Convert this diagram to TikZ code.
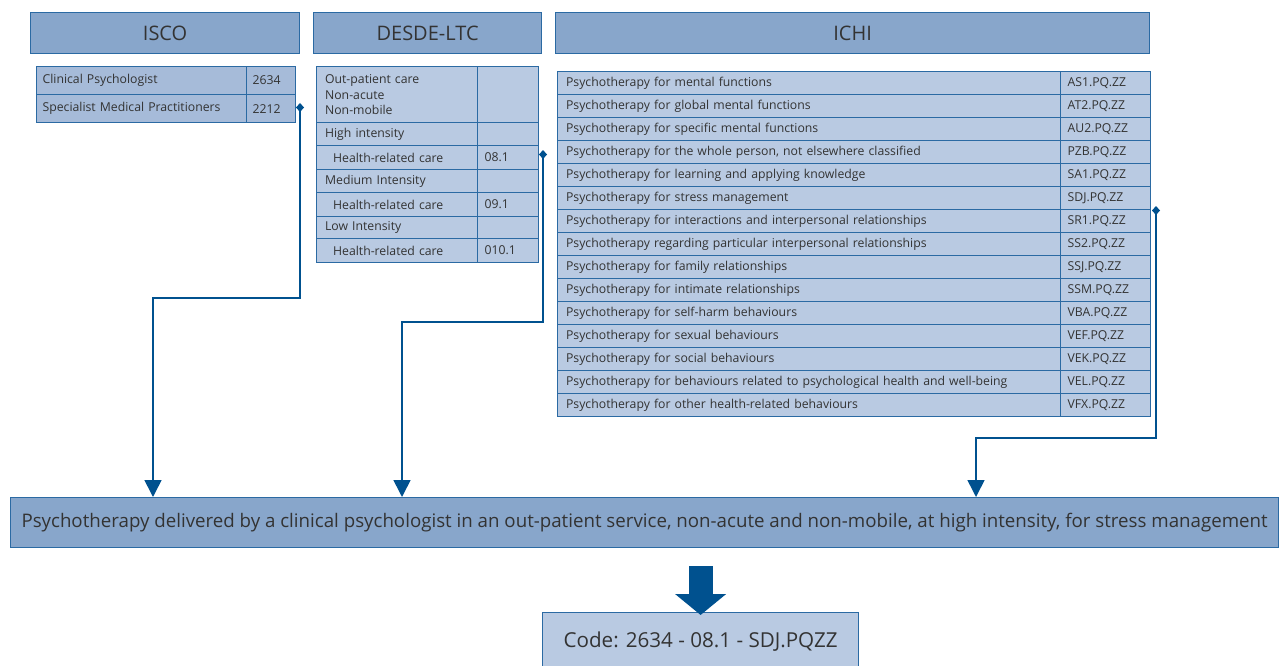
\documentclass[tikz,border=0pt]{standalone}
\usepackage{fontspec}
\setmainfont{Open Sans}
\usetikzlibrary{arrows.meta}
\definecolor{hdrfill}{HTML}{88A6CB}
\definecolor{cellfill}{HTML}{B9CAE2}
\definecolor{iscofill}{HTML}{A6BBD9}
\definecolor{linecol}{HTML}{2B6AA3}
\definecolor{arrowcol}{HTML}{00518F}
\definecolor{textcol}{HTML}{333333}
\begin{document}
\begin{tikzpicture}[
        x=1pt,
        y=-1pt,
        text=textcol
    ]
    \tikzset{
        hdr/.style = {rectangle, draw=linecol, line width=1.2pt, fill=hdrfill, anchor=north west,
                      inner sep=0pt, minimum height=41pt, font=\fontsize{20}{24}\selectfont},
        cell/.style = {rectangle, draw=linecol, line width=1.2pt, fill=cellfill, anchor=north west,
                       inner xsep=8.5pt, inner ysep=0pt, align=left, font=\fontsize{12.25}{15.5}\selectfont},
        iscotext/.style = {cell, fill=iscofill, inner xsep=6pt, text width=198pt, minimum height=28pt},
        iscocode/.style = {cell, fill=iscofill, inner xsep=6pt, text width=37pt, minimum height=28pt},
        desdetext/.style = {cell, text width=144pt},
        desdecode/.style = {cell, inner xsep=7pt, text width=47pt},
        ichitext/.style = {cell, text width=486pt, minimum height=23pt},
        ichicode/.style = {cell, inner xsep=7pt, text width=76pt, minimum height=23pt},
        link/.style = {draw=arrowcol, line width=1.6pt,
                       {Diamond[width=8pt,length=9pt,fill=arrowcol]}-{Triangle[width=17pt,length=17pt,fill=arrowcol]}},
        bigarrow/.style = {draw=arrowcol, line width=24pt, -{Triangle[width=50pt,length=21pt,fill=arrowcol]}},
    }
    \useasboundingbox (0,0) rectangle (1279,666);
    % headers
    \node[hdr, minimum width=269pt] at (30,12) (iscohdr) {ISCO};
    \node[hdr, minimum width=228pt] at (313,12) (desdehdr) {DESDE-LTC};
    \node[hdr, minimum width=594pt] at (555,12) (ichihdr) {ICHI};
    %
    % ISCO
    \node[iscotext] at (36,66) (isco1) {Clinical Psychologist};
    \node[iscocode] at (246,66) (isco1c) {2634};
    \node[iscotext] at (36,94) (isco2) {Specialist Medical Practitioners};
    \node[iscocode] at (246,94) (isco2c) {2212};
    %
    % DESDE-LTC
    \node[desdetext, minimum height=56pt] at (316,66) (desde1) {Out-patient care\\Non-acute\\Non-mobile};
    \node[desdecode, minimum height=56pt] at (477,66) (desde1c) {};
    \node[desdetext, minimum height=23pt] at (316,122) (desde2) {High intensity};
    \node[desdecode, minimum height=23pt] at (477,122) (desde2c) {};
    \node[desdetext, minimum height=24pt] at (316,145) (desde3) {\hspace{8pt}Health-related care};
    \node[desdecode, minimum height=24pt] at (477,145) (desde3c) {08.1};
    \node[desdetext, minimum height=23pt] at (316,169) (desde4) {Medium Intensity};
    \node[desdecode, minimum height=23pt] at (477,169) (desde4c) {};
    \node[desdetext, minimum height=24pt] at (316,192) (desde5) {\hspace{8pt}Health-related care};
    \node[desdecode, minimum height=24pt] at (477,192) (desde5c) {09.1};
    \node[desdetext, minimum height=22pt] at (316,216) (desde6) {Low Intensity};
    \node[desdecode, minimum height=22pt] at (477,216) (desde6c) {};
    \node[desdetext, minimum height=24pt] at (316,238) (desde7) {\hspace{8pt}Health-related care};
    \node[desdecode, minimum height=24pt] at (477,238) (desde7c) {010.1};
    %
    % ICHI
    \node[ichitext] at (557,71) (ichi1) {Psychotherapy for mental functions};
    \node[ichicode] at (1060,71) (ichi1c) {AS1.PQ.ZZ};
    \node[ichitext] at (557,94) (ichi2) {Psychotherapy for global mental functions};
    \node[ichicode] at (1060,94) (ichi2c) {AT2.PQ.ZZ};
    \node[ichitext] at (557,117) (ichi3) {Psychotherapy for specific mental functions};
    \node[ichicode] at (1060,117) (ichi3c) {AU2.PQ.ZZ};
    \node[ichitext] at (557,140) (ichi4) {Psychotherapy for the whole person, not elsewhere classified};
    \node[ichicode] at (1060,140) (ichi4c) {PZB.PQ.ZZ};
    \node[ichitext] at (557,163) (ichi5) {Psychotherapy for learning and applying knowledge};
    \node[ichicode] at (1060,163) (ichi5c) {SA1.PQ.ZZ};
    \node[ichitext] at (557,186) (ichi6) {Psychotherapy for stress management};
    \node[ichicode] at (1060,186) (ichi6c) {SDJ.PQ.ZZ};
    \node[ichitext] at (557,209) (ichi7) {Psychotherapy for interactions and interpersonal relationships};
    \node[ichicode] at (1060,209) (ichi7c) {SR1.PQ.ZZ};
    \node[ichitext] at (557,232) (ichi8) {Psychotherapy regarding particular interpersonal relationships};
    \node[ichicode] at (1060,232) (ichi8c) {SS2.PQ.ZZ};
    \node[ichitext] at (557,255) (ichi9) {Psychotherapy for family relationships};
    \node[ichicode] at (1060,255) (ichi9c) {SSJ.PQ.ZZ};
    \node[ichitext] at (557,278) (ichi10) {Psychotherapy for intimate relationships};
    \node[ichicode] at (1060,278) (ichi10c) {SSM.PQ.ZZ};
    \node[ichitext] at (557,301) (ichi11) {Psychotherapy for self-harm behaviours};
    \node[ichicode] at (1060,301) (ichi11c) {VBA.PQ.ZZ};
    \node[ichitext] at (557,324) (ichi12) {Psychotherapy for sexual behaviours};
    \node[ichicode] at (1060,324) (ichi12c) {VEF.PQ.ZZ};
    \node[ichitext] at (557,347) (ichi13) {Psychotherapy for social behaviours};
    \node[ichicode] at (1060,347) (ichi13c) {VEK.PQ.ZZ};
    \node[ichitext] at (557,370) (ichi14) {Psychotherapy for behaviours related to psychological health and well-being};
    \node[ichicode] at (1060,370) (ichi14c) {VEL.PQ.ZZ};
    \node[ichitext] at (557,393) (ichi15) {Psychotherapy for other health-related behaviours};
    \node[ichicode] at (1060,393) (ichi15c) {VFX.PQ.ZZ};
    %
    % result
    \node[rectangle, draw=linecol, line width=1.2pt, fill=hdrfill, anchor=north west, inner xsep=10pt,
          minimum width=1268pt, minimum height=50pt, font=\fontsize{18.7}{22}\selectfont] at (10,497) (main)
          {Psychotherapy delivered by a clinical psychologist in an out-patient service, non-acute and non-mobile, at high intensity, for stress management};
    \node[rectangle, draw=linecol, line width=1.2pt, fill=cellfill, anchor=north west,
          minimum width=316pt, minimum height=58pt, font=\fontsize{20.6}{24}\selectfont] at (542,612) (code)
          {Code: 2634 - 08.1 - SDJ.PQZZ};
    %
    \coordinate (iscoout) at (300,103);
    \coordinate (iscodrop) at (153,298);
    \coordinate (desdeout) at (543,150);
    \coordinate (desdedrop) at (402,322);
    \coordinate (ichiout) at (1156,206);
    \coordinate (ichidrop) at (976,438);
    \draw[link] (iscoout) |- (iscodrop) -- (main.north -| iscodrop);
    \draw[link] (desdeout) |- (desdedrop) -- (main.north -| desdedrop);
    \draw[link] (ichiout) |- (ichidrop) -- (main.north -| ichidrop);
    \draw[bigarrow] ([yshift=-18pt]main.south -| code.north) -- ([yshift=-3pt]code.north);
\end{tikzpicture}
\end{document}
